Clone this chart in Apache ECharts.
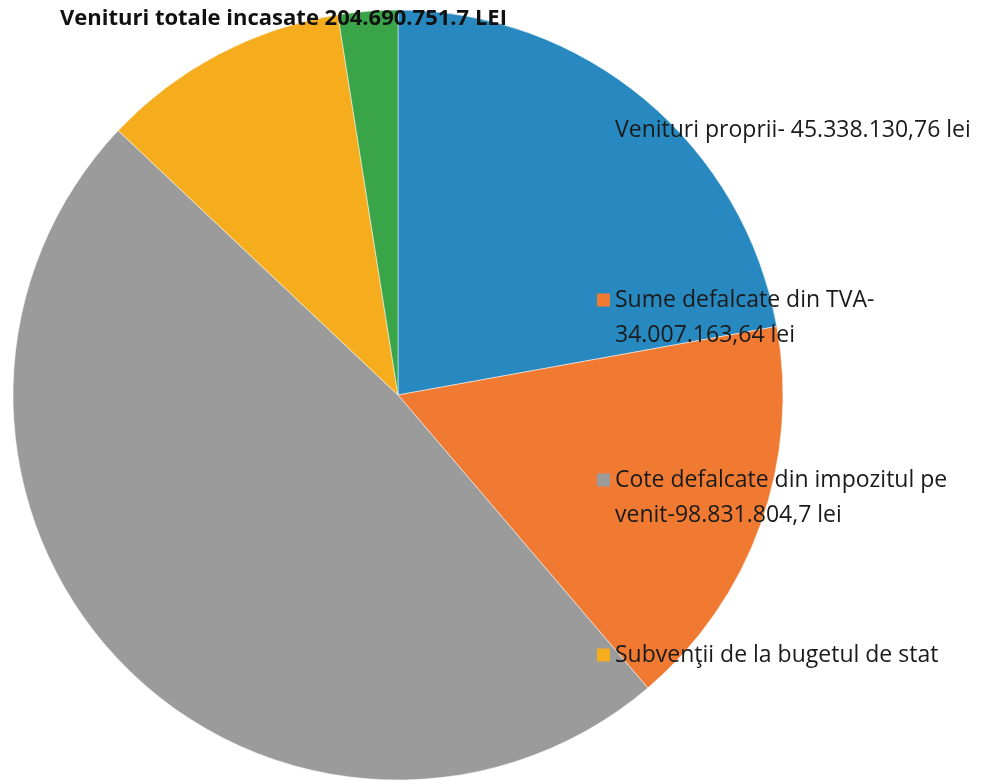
<!DOCTYPE html>
<html>
<head>
<meta charset="utf-8">
<script src="https://cdn.jsdelivr.net/npm/echarts@6/dist/echarts.min.js"></script>
<style>
    html, body {margin:0;padding:0;background:#ffffff;}
    #chart {width:988px;height:781px;}
</style>
</head>
<body>
<div id="chart"></div>
<script>
    // date grafic
    var titlu = 'Venituri totale incasate 204.690.751.7 LEI';
    var categorii = [
        'Venituri proprii- 45.338.130,76 lei',
        'Sume defalcate din TVA-',
        'Cote defalcate din impozitul pe',
        'Subvenţii de la bugetul de stat',
        'Altele'
    ];
    // al doilea rand din legenda (unde exista)
    var randDoi = ['', '34.007.163,64 lei', 'venit-98.831.804,7 lei', ''];
    var valori = [45338130.76, 34007163.64, 98831804.7, 21400000, 5110000];
    var culori = ['#2789c0', '#f07a31', '#9b9b9b', '#f5ad1e', '#3aa548'];

    var chart = echarts.init(document.getElementById('chart'));

    var font = '"Open Sans", "Noto Sans", sans-serif';
    var fontSize = 23;
    var randY = [130, 300, 480, 655];   // centrul primului rand
    var pasRand = 35;

    // cate o legenda pentru fiecare element (spatiere inegala ca in original)
    var legends = [];
    var texte = [];
    for (var i = 0; i < 4; i++) {
        legends.push({
            left: 597,
            top: randY[i] - 16,
            icon: 'rect',
            itemWidth: 13,
            itemHeight: 13,
            itemGap: 0,
            padding: 0,
            selectedMode: false,
            itemStyle: {borderWidth: 0},
            data: [categorii[i]],
            textStyle: {
                fontFamily: font,
                fontSize: fontSize,
                color: '#1a1a1a',
                lineHeight: 32,
                padding: 0
            }
        });
        if (randDoi[i]) {
            texte.push({
                type: 'text',
                left: 615,
                top: randY[i] + pasRand - 16,
                z: 100,
                style: {
                    text: randDoi[i],
                    font: fontSize + 'px ' + font,
                    fill: '#1a1a1a',
                    lineHeight: 32
                }
            });
        }
    }

    var data = [];
    for (var j = 0; j < valori.length; j++) {
        data.push({value: valori[j], name: categorii[j], itemStyle: {color: culori[j]}});
    }

    var option = {
        backgroundColor: '#ffffff',
        animation: false,
        title: {
            text: titlu,
            left: 60,
            top: 8,
            padding: 0,
            textStyle: {
                fontFamily: font,
                fontSize: 22,
                fontWeight: 'bold',
                color: '#111111'
            }
        },
        legend: legends,
        graphic: texte,
        series: [
            {
                type: 'pie',
                center: [398, 395],
                radius: 385,
                startAngle: 90,
                clockwise: true,
                label: {show: false},
                labelLine: {show: false},
                itemStyle: {borderColor: '#ffffff', borderWidth: 0.5},
                data: data
            }
        ]
    };
    chart.setOption(option);
</script>
</body>
</html>
